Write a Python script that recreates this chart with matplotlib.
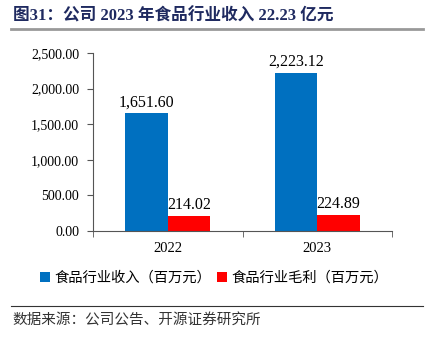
import numpy as np
import matplotlib
matplotlib.use('Agg')
from matplotlib import pyplot as plt
from matplotlib.lines import Line2D
from matplotlib.ticker import FuncFormatter

plt.rcParams['font.family'] = ['Liberation Serif', 'Noto Sans CJK SC', 'DejaVu Sans']

# 数据
years = ['2022', '2023']
revenue = [1651.60, 2223.12]
gross_profit = [214.02, 224.89]
series_names = ['食品行业收入（百万元）', '食品行业毛利（百万元）']
title = '图31：公司 2023 年食品行业收入 22.23 亿元'
source = '数据来源：公司公告、开源证券研究所'

fig = plt.figure(figsize=(4.28, 3.41), dpi=100)
ax = fig.add_axes([93 / 428, 1 - 231 / 341, 299 / 428, 178 / 341])

x = np.arange(len(years))
w = 0.285
b1 = ax.bar(x - w / 2, revenue, w, color='#0070C0', label=series_names[0])
b2 = ax.bar(x + w / 2, gross_profit, w, color='#FF0000', label=series_names[1])

for bars, vals in ((b1, revenue), (b2, gross_profit)):
    for r, v in zip(bars, vals):
        ax.text(r.get_x() + r.get_width() / 2, v + 45, f'{v:,.2f}',
                ha='center', va='bottom', fontsize=11.5, color='black')

ax.set_xlim(-0.5, 1.5)
ax.set_ylim(0, 2500)
ax.set_yticks(np.arange(0, 2501, 500))
ax.yaxis.set_major_formatter(FuncFormatter(lambda v, p: f'{v:,.2f}'))
ax.set_xticks(x)
ax.set_xticklabels(years)
ax.set_xticks([-0.5, 0.5, 1.5], minor=True)
ax.tick_params(axis='x', which='major', length=0, labelsize=10.5, pad=8)
ax.tick_params(axis='x', which='minor', length=4, color='#555555', direction='out')
ax.tick_params(axis='y', length=4, color='#555555', labelsize=10, pad=6)
for s in ('top', 'right'):
    ax.spines[s].set_visible(False)
for s in ('left', 'bottom'):
    ax.spines[s].set_color('#555555')
    ax.spines[s].set_linewidth(0.8)

fig.legend(handles=[b1, b2], loc='center', bbox_to_anchor=(0.5, 1 - 278 / 341),
           ncol=2, frameon=False, fontsize=10.3, handlelength=0.7, handleheight=0.7,
           handletextpad=0.3, columnspacing=0.4)

fig.text(13 / 428, 1 - 16 / 341, title, fontsize=12, fontweight='bold',
         color='#1F2A60', ha='left', va='center')
fig.add_artist(Line2D([11 / 428, 423 / 428], [1 - 29 / 341] * 2, color='#999999', lw=2))
fig.add_artist(Line2D([11 / 428, 423 / 428], [1 - 306 / 341] * 2, color='#333333', lw=0.8))
fig.text(12 / 428, 1 - 321 / 341, source, fontsize=10.5, color='#333333',
         ha='left', va='center')

fig.savefig('out.png', dpi=100)
